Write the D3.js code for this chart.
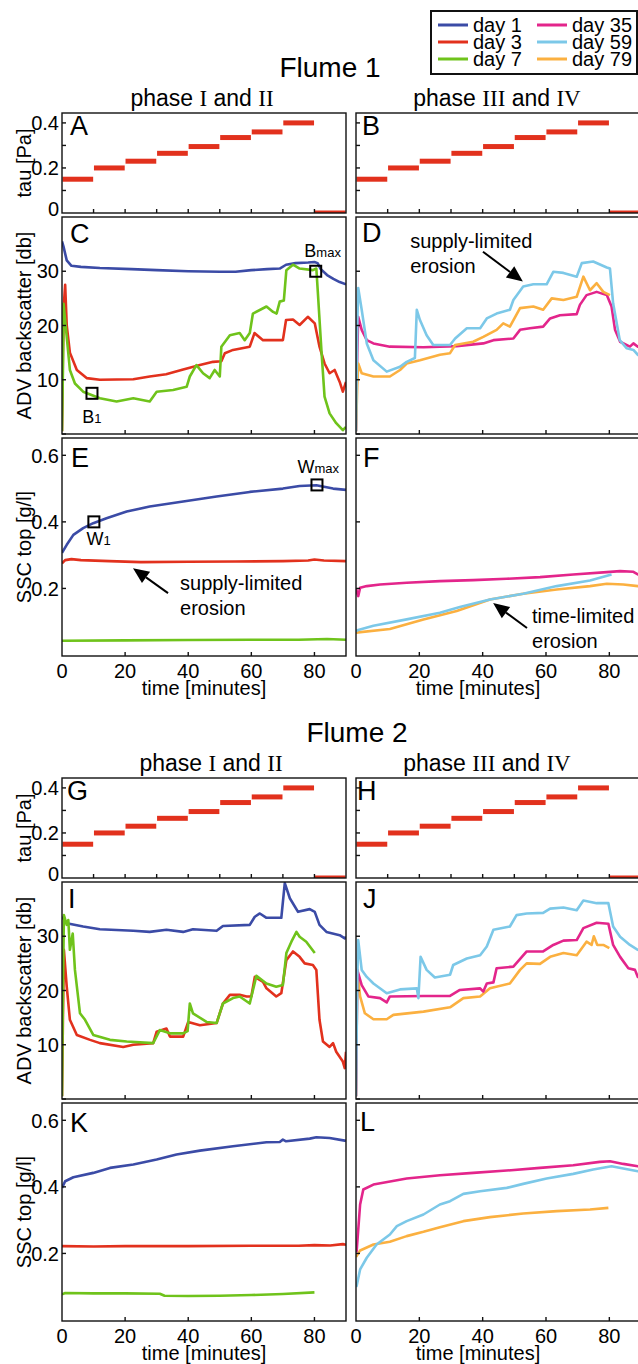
<!DOCTYPE html>
<html><head><meta charset="utf-8">
<script src="https://cdn.jsdelivr.net/npm/d3@7"></script>
<style>body{margin:0;background:#fff}</style>
</head><body>
<script>
// ---------------- DATA ----------------
const legendDays = ["day 1","day 3","day 7","day 35","day 59","day 79"];
const tauStart  = [0,10,20,30,40,50,60,70,80];
const tauLevels = [0.15,0.2,0.23,0.265,0.295,0.335,0.36,0.4,0];
const xTickLabels = [0,20,40,60,80];
const tauTickLabels = [0,0.2,0.4];
const advTickLabels = [10,20,30];
const sscTickLabels = [0.2,0.4,0.6];

// Flume 1, panel C (ADV, phase I/II)
const f1C_day1 = [[0,35.5],[0.5,34.5],[1.5,32],[3,31],[6,30.8],[12,30.6],[22,30.4],[30,30.2],[40,30],[50,29.9],[55,29.9],[60,30.2],[65,30.4],[69,30.5],[71,31.2],[74,31.5],[78,31.6],[80,31.7],[81,31.5],[82,30.4],[84,29.3],[86,28.6],[88,28],[90,27.6]];
const f1C_day3 = [[0,0.5],[0.3,15],[0.6,24],[1,27.5],[1.5,20],[2.5,15],[4.7,11.8],[7.8,10.3],[12,10],[22.6,10.1],[27.8,10.6],[33,11],[38.4,11.9],[43.7,12.7],[47.9,13.3],[50.5,13.4],[51.6,14.9],[54.2,15.5],[59.5,16.1],[61,18.6],[63.7,17.3],[70,17.3],[71,21],[73.2,21.1],[75.3,20.1],[77.9,21.6],[80.1,20.4],[81.6,16.1],[83.2,13],[84.8,11.2],[86.4,11.8],[88,9.6],[89,7.8],[90,9.6]];
const f1C_day7 = [[0,0.5],[0.3,12],[0.5,24],[1.5,17.9],[2.5,11.8],[4.1,9.3],[6.7,7.8],[12,6.6],[17.3,6],[22.6,6.6],[27.8,6],[30,7.8],[35.2,8.1],[39.5,8.7],[40.5,10.6],[42.6,12.7],[44.7,11.2],[46.8,10.3],[48.4,11.8],[50,10.6],[50.5,16.1],[53.2,18.2],[56.3,18.6],[57.9,17.3],[59.5,18.6],[60.5,22.2],[64.8,23.5],[66.9,22.5],[68,22.2],[69,24.4],[70.3,24.6],[71.1,30.2],[73.2,31.2],[75.3,30.5],[79.5,30.2],[80.6,30.5],[81.1,25.9],[82.2,15.5],[83.2,6.9],[84.8,3.8],[86.9,2],[89,0.7],[90,1.3]];
// Flume 1, panel D (ADV, phase III/IV)
const f1D_day35 = [[0,0.5],[0.4,15],[0.7,21.6],[1.8,19.2],[3.4,17.3],[5.5,16.7],[10.7,16.1],[21.3,16],[31.8,16.2],[40.2,16.7],[43.4,17.3],[49.7,17.6],[51.8,19.2],[54.9,19.5],[59.1,19.8],[61.3,21.3],[64.4,21.9],[69.7,22.1],[70.7,23.8],[72.8,25.6],[76,26.2],[79.2,25.6],[80.7,23.5],[81.8,19.2],[83.4,17],[86.5,16.1],[87.6,16.7],[89,16.1],[90,16.5]];
const f1D_day59 = [[0,0.5],[0.4,20],[0.7,26.9],[1.8,22.9],[3.4,16.7],[5.5,13.6],[9.7,11.5],[13.9,12.4],[16,13.3],[18.6,14],[19.2,22.9],[20.2,21],[22.3,18.2],[24.4,16.4],[29.7,16.4],[31.3,17.6],[35,19.5],[39.2,19.5],[41.3,21.3],[44.4,22.2],[48.6,22.9],[49.7,24.7],[52.8,27.2],[56,27.6],[60.2,27.6],[62.3,29.9],[65.5,29.7],[69.7,29],[71.3,31.5],[74.9,31.8],[79.2,30.7],[80.2,30.5],[81.2,24.1],[83.3,17.3],[85.5,15.8],[87.6,15.5],[89,14.6],[90,15.2]];
const f1D_day79 = [[0,0.5],[0.4,9],[0.7,13],[1.8,11.2],[5.5,10.6],[10.7,10.6],[13.9,11.8],[16,13],[20.2,13.6],[26.5,14.6],[29.7,14.9],[31.3,16.4],[37,17],[40.2,17.9],[44.4,19.2],[46.5,20.4],[48.6,19.8],[51.8,23.2],[56,23.5],[59.1,22.9],[61.8,25],[65.5,24.7],[69.7,25.3],[71.8,29],[73.9,26.5],[76,27.8],[78.1,26.2],[80.2,25.6]];
// Flume 1, panel E (SSC, phase I/II)
const f1E_day1 = [[0,0.307],[1.5,0.331],[3.6,0.361],[6.7,0.381],[9.9,0.396],[14.1,0.411],[20.5,0.431],[27.8,0.446],[38.4,0.461],[49,0.476],[59.5,0.49],[70,0.5],[75.3,0.508],[80.6,0.51],[85.9,0.5],[90,0.496]];
const f1E_day3 = [[0,0.275],[1,0.285],[3,0.288],[6,0.285],[15,0.282],[25,0.279],[40,0.28],[55,0.281],[70,0.282],[78,0.284],[80,0.287],[83,0.284],[90,0.282]];
const f1E_day7 = [[0,0.043],[20,0.044],[40,0.045],[60,0.046],[75,0.046],[84,0.048],[90,0.046]];
// Flume 1, panel F (SSC, phase III/IV)
const f1F_day35 = [[0,0.2],[0.4,0.185],[0.7,0.177],[1.3,0.202],[3.4,0.207],[7.6,0.212],[16,0.217],[26.5,0.222],[37,0.225],[47.6,0.229],[58.1,0.234],[68.6,0.242],[79.2,0.249],[83.4,0.252],[87.6,0.25],[89,0.242],[90,0.24]];
const f1F_day59 = [[0,0.072],[0.7,0.075],[5.5,0.088],[16,0.107],[26.5,0.127],[32.8,0.144],[42.3,0.167],[52.8,0.184],[63.4,0.207],[73.9,0.224],[80.7,0.242]];
const f1F_day79 = [[0,0.066],[0.7,0.068],[10.7,0.078],[21.3,0.107],[31.8,0.132],[42.3,0.167],[52.8,0.184],[63.4,0.197],[73.9,0.207],[79.2,0.214],[84.4,0.212],[89,0.207],[90,0.206]];
// Flume 2, panel I (ADV, phase I/II)
const f2I_day1 = [[0,33.6],[1.5,32.4],[6.7,31.8],[12,31.3],[22.6,31],[27.8,30.8],[33.1,31.2],[38.4,30.8],[41.5,31.3],[49,31],[51,31.9],[59.5,32.1],[61.1,33.6],[62.7,34.2],[64.8,33.4],[69.5,33.4],[70.6,39.8],[72.2,37],[74.8,34.5],[78.5,35],[80.1,34.5],[81.6,32.1],[83.8,30.8],[88,30.2],[89.6,29.6],[90,29.9]];
const f2I_day3 = [[0,0.5],[0.3,15],[0.6,27.5],[1.5,20.7],[2.5,14.6],[4.7,11.8],[8.9,10.9],[12,10.3],[19.4,9.6],[22.6,10],[28.9,10.3],[30,12.4],[33.1,13],[34.2,11.5],[38.4,11.5],[40,14.2],[43.7,13.6],[49,14],[51,17.6],[53.2,19.2],[56.3,19.2],[58.5,18.9],[60,18.9],[61.1,22.5],[63.7,21.6],[64.8,20.4],[67.9,18.9],[69.5,19.5],[71.1,25.6],[73.2,27.2],[75.3,26.2],[76.9,25],[79.5,24.7],[80.6,23.8],[81.6,14.6],[82.7,10.6],[84.8,9.6],[85.9,10.3],[86.9,8.7],[89,6.9],[89.6,5.7],[90,8.7]];
const f2I_day7 = [[0,0.5],[0.3,20],[0.6,33.9],[1.5,32.1],[2,33],[2.5,27.5],[3.4,30.5],[4.1,23.8],[5.7,15.8],[7.3,14.6],[9.9,11.8],[15.2,10.9],[20.5,10.6],[28.9,10.3],[31,12.7],[34.2,12.1],[38.4,12.1],[39.8,12.5],[40.5,17.6],[41.5,15.8],[45.8,14.2],[49,14],[51,17.6],[54.2,18.6],[56.3,18.9],[59.5,17.6],[61.6,22.7],[64.8,21.3],[67.9,20.7],[70,21],[71.1,26.9],[72.7,29],[74.3,30.8],[75.3,29.9],[77.4,29],[80.1,26.9]];
// Flume 2, panel J (ADV, phase III/IV)
const f2J_day35 = [[0,0.5],[0.2,12],[0.4,23.8],[1.8,21],[3.9,18.9],[7.6,18.6],[9.7,17.8],[10.7,18.9],[21.3,19],[29.7,19],[32.8,20.1],[39.2,20.4],[40.2,19.8],[41.3,21.3],[43.4,21.5],[44.4,24.1],[49.7,24.4],[53.9,27.2],[59.1,27.2],[62.3,28.4],[65.5,29.2],[69.7,29.3],[71.8,31.5],[76,32.5],[79.7,32.3],[81.2,28.4],[83.4,26.2],[86,24.1],[88.1,23.8],[89,22.5],[90,22.3]];
const f2J_day59 = [[0,0.5],[0.4,22],[0.7,29.3],[1.8,23.8],[3.4,22.5],[5.5,21.3],[9.7,19.5],[13.9,20.2],[19.2,20.4],[19.7,18.6],[20.4,26.2],[22.3,23.8],[24.9,22.4],[29.7,22.9],[30.7,24.7],[35,25.9],[39.2,26.5],[41.3,28.1],[43.4,31.2],[48.6,31.8],[50.7,33.9],[53.9,34.2],[59.1,34.3],[61.3,35.1],[65.5,35.3],[69.7,34.8],[71.8,36.6],[76,36.1],[79.7,36.1],[81.2,31.8],[83.4,29.9],[86.5,28.4],[89,27.5],[90,27.3]];
const f2J_day79 = [[0,0.5],[0.2,12],[0.4,23.8],[1.3,18.9],[2.8,15.8],[5.5,14.7],[9.7,14.7],[11.8,15.5],[21.3,16.1],[29.7,16.9],[33.9,18.6],[39.2,18.9],[42.3,20.4],[48.6,21.3],[51.8,23.8],[53.9,25],[58.1,24.9],[61.3,26.2],[65.5,26.9],[69.7,26.5],[72.8,29],[74.4,28.4],[75.1,30],[76.2,28.4],[78.1,28.4],[80,27.8]];
// Flume 2, panel K (SSC, phase I/II)
const f2K_day1 = [[0,0.397],[1,0.417],[3.6,0.429],[9.9,0.442],[15.2,0.457],[22.6,0.467],[30,0.482],[36.3,0.497],[43.7,0.509],[54.2,0.522],[64.8,0.534],[69,0.535],[70,0.542],[71,0.537],[78.5,0.545],[80.6,0.549],[84.8,0.547],[89.6,0.539],[90,0.538]];
const f2K_day3 = [[0,0.222],[10,0.221],[20,0.222],[40,0.222],[60,0.223],[75,0.223],[80,0.225],[85,0.224],[89,0.228],[90,0.226]];
const f2K_day7 = [[0,0.077],[1,0.081],[10,0.08],[20,0.08],[31,0.079],[32.5,0.073],[40,0.072],[50,0.073],[60,0.075],[70,0.078],[80,0.083]];
// Flume 2, panel L (SSC, phase III/IV)
const f2L_day35 = [[0,0.205],[0.2,0.207],[1.3,0.347],[2.3,0.392],[5.5,0.407],[16,0.425],[26.5,0.435],[37,0.442],[47.6,0.449],[58.1,0.457],[68.6,0.465],[77,0.475],[80.2,0.477],[84.4,0.469],[89,0.462],[90,0.46]];
const f2L_day59 = [[0,0.1],[0.2,0.102],[1.3,0.152],[3.4,0.187],[6.5,0.227],[10.7,0.257],[12.9,0.282],[16,0.297],[21.3,0.317],[26.5,0.347],[29.7,0.357],[33.9,0.379],[39.2,0.387],[47.6,0.397],[52.8,0.409],[60.2,0.425],[68.6,0.439],[74.9,0.452],[80.7,0.462],[84.4,0.455],[89,0.447],[90,0.445]];
const f2L_day79 = [[0,0.19],[0.2,0.192],[1.3,0.209],[5.5,0.227],[10.7,0.235],[16,0.252],[21.3,0.265],[26.5,0.279],[33.9,0.297],[42.3,0.309],[52.8,0.32],[63.4,0.327],[73.9,0.332],[79.7,0.337]];

// markers / annotations (data coordinates)
const markersC = [{t:9.5,v:7.5,label:"B",sub:"1",lt:6.4,lv:2.0},{t:80.4,v:30.0,label:"B",sub:"max",lt:76.8,lv:32.6}];
const markersE = [{t:10.1,v:0.40,label:"W",sub:"1",lt:7.8,lv:0.33},{t:80.8,v:0.511,label:"W",sub:"max",lt:74.6,lv:0.547}];

// ---------------- LAYOUT / STYLE ----------------
const W = 638, H = 1364;
const FONT = "'Liberation Sans', Arial, Helvetica, sans-serif";
const SERIF = "'Liberation Serif', 'Times New Roman', serif";
const colors = {"day 1":"#3b4ba6","day 3":"#e2311d","day 7":"#6fc31b","day 35":"#e3258b","day 59":"#7cc8e8","day 79":"#fbb040"};
const TAU_RED = "#e2311d";
const colX = {left:[62,346], right:[356,641]};
const F2 = 665;
const rowY = {tau:[113,213], adv:[217,434], ssc:[438,656]};
const yDom = {tau:[0,0.444], adv:[0,40], ssc:[-0.003,0.652]};
const yTicks = {tau:[0.1,0.2,0.3,0.4], adv:[0,10,20,30], ssc:[0.2,0.4,0.6]};
const yLabels = {tau:tauTickLabels, adv:advTickLabels, ssc:sscTickLabels};
const xTicks = {tau:d3.range(10,90,10), adv:[20,40,60,80], ssc:[20,40,60,80]};
const yTitles = {tau:"tau [Pa]", adv:"ADV backscatter [db]", ssc:"SSC top [g/l]"};

const svg = d3.select("body").append("svg").attr("width",W).attr("height",H)
  .attr("font-family",FONT);
svg.append("rect").attr("width",W).attr("height",H).attr("fill","#fff");
const defs = svg.append("defs");

const panels = [
  {id:"A",col:"left",off:0,kind:"tau",lx:70,ly:135},
  {id:"B",col:"right",off:0,kind:"tau",lx:362,ly:135},
  {id:"C",col:"left",off:0,kind:"adv",lx:70,ly:243,series:[["day 1",f1C_day1],["day 3",f1C_day3],["day 7",f1C_day7]],markers:markersC},
  {id:"D",col:"right",off:0,kind:"adv",lx:362,ly:242,series:[["day 35",f1D_day35],["day 79",f1D_day79],["day 59",f1D_day59]],
    note:{lines:["supply-limited","erosion"],t:17.1,v:[34.3,29.7],from:[40.1,33.6],to:[52.7,28.1]}},
  {id:"E",col:"left",off:0,kind:"ssc",lx:71,ly:467,series:[["day 1",f1E_day1],["day 3",f1E_day3],["day 7",f1E_day7]],markers:markersE,
    note:{lines:["supply-limited","erosion"],t:37.4,v:[0.195,0.12],from:[33.6,0.186],to:[22.5,0.261]}},
  {id:"F",col:"right",off:0,kind:"ssc",lx:363,ly:467,series:[["day 35",f1F_day35],["day 79",f1F_day79],["day 59",f1F_day59]],
    note:{lines:["time-limited","erosion"],t:55.6,v:[0.096,0.021],from:[54,0.081],to:[43.3,0.156]}},
  {id:"G",col:"left",off:F2,kind:"tau",lx:67,ly:800},
  {id:"H",col:"right",off:F2,kind:"tau",lx:357,ly:800},
  {id:"I",col:"left",off:F2,kind:"adv",lx:68,ly:908,series:[["day 1",f2I_day1],["day 3",f2I_day3],["day 7",f2I_day7]]},
  {id:"J",col:"right",off:F2,kind:"adv",lx:363,ly:908,series:[["day 79",f2J_day79],["day 35",f2J_day35],["day 59",f2J_day59]]},
  {id:"K",col:"left",off:F2,kind:"ssc",lx:70,ly:1132,series:[["day 1",f2K_day1],["day 3",f2K_day3],["day 7",f2K_day7]]},
  {id:"L",col:"right",off:F2,kind:"ssc",lx:360,ly:1131,series:[["day 79",f2L_day79],["day 59",f2L_day59],["day 35",f2L_day35]]}
];

function arrow(g,x1,y1,x2,y2){
  const L=16, hw=7;
  const dx=x2-x1, dy=y2-y1, len=Math.hypot(dx,dy), ux=dx/len, uy=dy/len;
  const bx=x2-ux*L, by=y2-uy*L;
  g.append("line").attr("x1",x1).attr("y1",y1).attr("x2",bx).attr("y2",by)
    .attr("stroke","#000").attr("stroke-width",2);
  g.append("path").attr("d",`M${x2},${y2}L${bx-uy*hw},${by+ux*hw}L${bx+uy*hw},${by-ux*hw}Z`).attr("fill","#000");
}

panels.forEach(p=>{
  const xr = colX[p.col];
  const yr = [rowY[p.kind][1]+p.off, rowY[p.kind][0]+p.off];
  const x = d3.scaleLinear().domain([0,90]).range(xr);
  const y = d3.scaleLinear().domain(yDom[p.kind]).range(yr);
  const g = svg.append("g");
  const cid = "clip"+p.id;
  defs.append("clipPath").attr("id",cid).append("rect")
    .attr("x",xr[0]).attr("y",yr[1]).attr("width",xr[1]-xr[0]).attr("height",yr[0]-yr[1]);
  const pg = g.append("g").attr("clip-path",`url(#${cid})`);

  if(p.kind==="tau"){
    pg.selectAll("line.tau").data(tauStart.map((s,i)=>({s,v:tauLevels[i]}))).join("line")
      .attr("x1",d=>x(d.s)+0.4).attr("x2",d=>x(d.s+10)-0.4)
      .attr("y1",d=>y(d.v)).attr("y2",d=>y(d.v))
      .attr("stroke",TAU_RED).attr("stroke-width",5);
  } else {
    const line = d3.line().x(d=>x(d[0])).y(d=>y(d[1]));
    p.series.forEach(([k,data])=>{
      pg.append("path").attr("d",line(data)).attr("fill","none")
        .attr("stroke",colors[k]).attr("stroke-width",2.6).attr("stroke-linejoin","round");
    });
  }
  // frame
  g.append("rect").attr("x",xr[0]).attr("y",yr[1]).attr("width",xr[1]-xr[0]).attr("height",yr[0]-yr[1])
    .attr("fill","none").attr("stroke","#111").attr("stroke-width",1.4);
  // y ticks inward
  g.selectAll("line.yt").data(yTicks[p.kind]).join("line")
    .attr("x1",xr[0]).attr("x2",xr[0]+4).attr("y1",d=>y(d)).attr("y2",d=>y(d))
    .attr("stroke","#111").attr("stroke-width",1.4);
  // x ticks inward at bottom
  g.selectAll("line.xt").data(xTicks[p.kind]).join("line")
    .attr("x1",d=>x(d)).attr("x2",d=>x(d)).attr("y1",yr[0]).attr("y2",yr[0]-4)
    .attr("stroke","#111").attr("stroke-width",1.4);
  // y labels + title
  if(p.col==="left"){
    g.selectAll("text.yl").data(yLabels[p.kind]).join("text")
      .attr("x",xr[0]-3).attr("y",d=>(d===0? y(d)-4 : y(d)))
      .attr("dy","0.36em").attr("text-anchor","end").attr("font-size",20)
      .text(d=>d);
    g.append("text").attr("transform",`translate(24,${(yr[0]+yr[1])/2}) rotate(-90)`)
      .attr("text-anchor","middle").attr("dy","0.36em").attr("font-size",20).text(yTitles[p.kind]);
  }
  // x labels
  if(p.kind==="ssc"){
    g.selectAll("text.xl").data(xTickLabels).join("text")
      .attr("x",d=>x(d)).attr("y",yr[0]+22).attr("text-anchor","middle").attr("font-size",20).text(d=>d);
    g.append("text").attr("x",p.col==="right"?478:204).attr("y",yr[0]+39).attr("text-anchor","middle")
      .attr("font-size",20).text("time [minutes]");
  }
  // panel letter
  g.append("text").attr("x",p.lx).attr("y",p.ly).attr("font-size",27).text(p.id);
  // markers
  if(p.markers){
    p.markers.forEach(m=>{
      g.append("rect").attr("x",x(m.t)-5.5).attr("y",y(m.v)-5.5).attr("width",11).attr("height",11)
        .attr("fill","none").attr("stroke","#000").attr("stroke-width",2);
      const t = g.append("text").attr("x",x(m.lt)).attr("y",y(m.lv)).attr("font-size",18);
      t.append("tspan").text(m.label);
      t.append("tspan").attr("font-size",13).text(m.sub);
    });
  }
  if(p.note){
    const n=p.note;
    n.lines.forEach((s,i)=>{
      g.append("text").attr("x",x(n.t)).attr("y",y(n.v[i])).attr("font-size",20).text(s);
    });
    arrow(g,x(n.from[0]),y(n.from[1]),x(n.to[0]),y(n.to[1]));
  }
});

// titles
function phaseLabel(cx,by,parts){
  const t = svg.append("text").attr("x",cx).attr("y",by).attr("text-anchor","middle").attr("font-size",23);
  parts.forEach(([s,serif])=>{ const ts=t.append("tspan").text(s); if(serif) ts.attr("font-family",SERIF); });
}
[[0,330,202,497],[F2,357,211,487]].forEach(([off,fx,p1,p2],i)=>{
  svg.append("text").attr("x",fx).attr("y",77+off).attr("text-anchor","middle").attr("font-size",28)
    .text("Flume "+(i+1));
  phaseLabel(p1,106+off,[["phase "],["I",true],[" and "],["II",true]]);
  phaseLabel(p2,106+off,[["phase "],["III",true],[" and "],["IV",true]]);
});

// legend
const lg = svg.append("g");
lg.append("rect").attr("x",431).attr("y",11).attr("width",206).attr("height",63)
  .attr("fill","#fff").attr("stroke","#111").attr("stroke-width",2);
legendDays.forEach((d,i)=>{
  const cx = i<3 ? 438 : 537, cy = 25 + (i%3)*17;
  lg.append("line").attr("x1",cx).attr("x2",cx+30).attr("y1",cy).attr("y2",cy)
    .attr("stroke",colors[d]).attr("stroke-width",3);
  lg.append("text").attr("x",cx+35).attr("y",cy).attr("dy","0.36em").attr("font-size",20).text(d);
});
</script>
</body></html>
